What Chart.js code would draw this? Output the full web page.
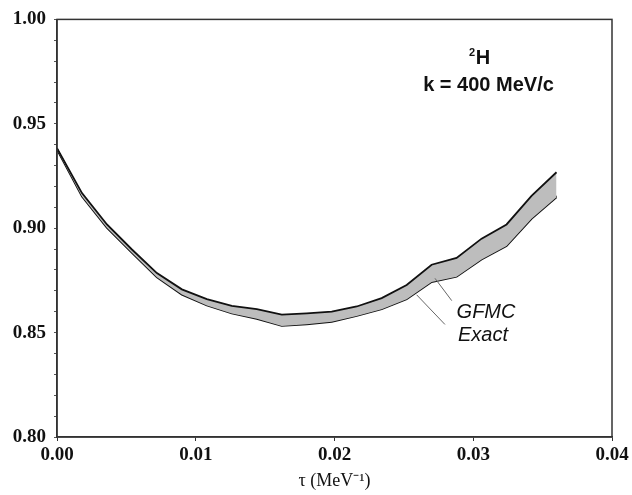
<!DOCTYPE html>
<html>
<head>
<meta charset="utf-8">
<script src="https://cdn.jsdelivr.net/npm/chart.js@4.4.0/dist/chart.umd.min.js"></script>
<style>
  html, body { margin: 0; padding: 0; background: #fff; }
  #wrap { width: 632px; height: 495px; }
</style>
</head>
<body>
<div id="wrap"><canvas id="chart" width="632" height="495"></canvas></div>
<script>
// tau grid (MeV^-1)
const tau = [0, 0.0018, 0.0036, 0.0054, 0.0072, 0.0090, 0.0108, 0.0126, 0.0144, 0.0162,
  0.0180, 0.0198, 0.0216, 0.0234, 0.0252, 0.0270, 0.0288, 0.0306, 0.0324, 0.0342, 0.0360];

// exact curve
const exact = [0.938, 0.916, 0.901, 0.889, 0.8775, 0.8695, 0.8645, 0.8610, 0.8588, 0.8572,
  0.8570, 0.8578, 0.8603, 0.8635, 0.8680, 0.8752, 0.8790, 0.8865, 0.8945, 0.9055, 0.9155];

// GFMC error band
const gfmcUpper = [0.9383, 0.9168, 0.9018, 0.8898, 0.8785, 0.8707, 0.8660, 0.8628, 0.8612, 0.8586,
  0.8592, 0.8600, 0.8625, 0.8665, 0.8728, 0.8825, 0.8858, 0.8950, 0.9018, 0.9155, 0.9268];
const gfmcLower = [0.9377, 0.9152, 0.9002, 0.8882, 0.8765, 0.8682, 0.8630, 0.8592, 0.8566, 0.8532,
  0.8540, 0.8552, 0.8580, 0.8612, 0.8660, 0.8742, 0.8768, 0.8850, 0.8915, 0.9045, 0.9148];

const xTicks = [0.00, 0.01, 0.02, 0.03, 0.04];
const yTicks = [0.80, 0.85, 0.90, 0.95, 1.00];

// labels in data coordinates
const labelGFMC = { x: 0.0288, y: 0.857, text: 'GFMC' };
const labelExact = { x: 0.0289, y: 0.846, text: 'Exact' };
const leaderGFMC = [[0.02845, 0.8653], [0.02724, 0.8760]];
const leaderExact = [[0.02796, 0.8539], [0.02592, 0.8681]];

const toPts = ys => tau.map((t, i) => ({ x: t, y: ys[i] }));

const framePlugin = {
  id: 'frame',
  afterDatasetsDraw(chart) {
    const { ctx, chartArea: a, scales: { x, y } } = chart;
    ctx.save();
    ctx.strokeStyle = '#333';
    ctx.lineWidth = 1.5;
    ctx.strokeRect(a.left, a.top, a.right - a.left, a.bottom - a.top);

    // leader lines
    ctx.strokeStyle = '#666';
    ctx.lineWidth = 1;
    [leaderGFMC, leaderExact].forEach(seg => {
      ctx.beginPath();
      ctx.moveTo(x.getPixelForValue(seg[0][0]), y.getPixelForValue(seg[0][1]));
      ctx.lineTo(x.getPixelForValue(seg[1][0]), y.getPixelForValue(seg[1][1]));
      ctx.stroke();
    });

    ctx.fillStyle = '#111';
    ctx.textBaseline = 'alphabetic';
    ctx.textAlign = 'left';
    ctx.font = 'italic 20px "Liberation Sans", Arial, sans-serif';
    [labelGFMC, labelExact].forEach(l => {
      ctx.fillText(l.text, x.getPixelForValue(l.x), y.getPixelForValue(l.y));
    });

    // nucleus / momentum annotation
    ctx.textAlign = 'center';
    ctx.font = 'bold 20px "Liberation Sans", Arial, sans-serif';
    ctx.fillText('k = 400 MeV/c', x.getPixelForValue(0.0311), y.getPixelForValue(0.9659));
    const hx = x.getPixelForValue(0.0307);
    const hy = y.getPixelForValue(0.9787);
    ctx.fillText('H', hx, hy);
    ctx.font = 'bold 11px "Liberation Sans", Arial, sans-serif';
    ctx.fillText('2', hx - 11, hy - 8);
    ctx.restore();
  }
};

new Chart(document.getElementById('chart'), {
  type: 'line',
  data: {
    datasets: [
      {
        label: 'GFMC upper',
        data: toPts(gfmcUpper),
        borderColor: '#111',
        borderWidth: 1.8,
        backgroundColor: '#bdbdbd',
        fill: '+1',
        pointRadius: 0,
        tension: 0
      },
      {
        label: 'GFMC lower',
        data: toPts(gfmcLower),
        borderColor: '#111',
        borderWidth: 1.8,
        fill: false,
        pointRadius: 0,
        tension: 0
      },
      {
        label: 'Exact',
        data: toPts(exact),
        borderColor: '#111',
        borderWidth: 1.5,
        fill: false,
        pointRadius: 0,
        tension: 0
      }
    ]
  },
  options: {
    responsive: false,
    animation: false,
    layout: { padding: { top: 15, right: 20, left: 0, bottom: 0 } },
    plugins: { legend: { display: false }, tooltip: { enabled: false } },
    scales: {
      x: {
        type: 'linear',
        min: 0,
        max: 0.04,
        afterBuildTicks: s => { s.ticks = xTicks.map(v => ({ value: v })); },
        afterFit: s => { s.height = 58; },
        grid: { drawOnChartArea: false, drawTicks: true, tickLength: 4, color: '#333' },
        border: { display: true, color: '#333', width: 1.5 },
        ticks: {
          color: '#111',
          padding: 3,
          maxRotation: 0,
          autoSkip: false,
          font: { family: '"Liberation Serif", "Times New Roman", serif', size: 19, weight: 'bold' },
          callback: v => v.toFixed(2)
        },
        title: {
          display: true,
          text: 'τ (MeV⁻¹)',
          color: '#111',
          padding: { top: 0, bottom: 3 },
          font: { family: '"Liberation Serif", "Times New Roman", serif', size: 18 }
        }
      },
      y: {
        type: 'linear',
        min: 0.80,
        max: 1.00,
        afterBuildTicks: s => {
          const t = [];
          for (let i = 0; i <= 20; i++) t.push({ value: 0.80 + i * 0.01 });
          s.ticks = t;
        },
        afterFit: s => { s.width = 57; },
        grid: { drawOnChartArea: false, drawTicks: true, tickLength: 3, color: '#555' },
        border: { display: true, color: '#333', width: 1.5 },
        ticks: {
          color: '#111',
          padding: 8,
          autoSkip: false,
          font: { family: '"Liberation Serif", "Times New Roman", serif', size: 19, weight: 'bold' },
          callback: v => {
            const hit = yTicks.find(t => Math.abs(t - v) < 1e-6);
            return hit !== undefined ? hit.toFixed(2) : '';
          }
        }
      }
    }
  },
  plugins: [framePlugin]
});
</script>
</body>
</html>
